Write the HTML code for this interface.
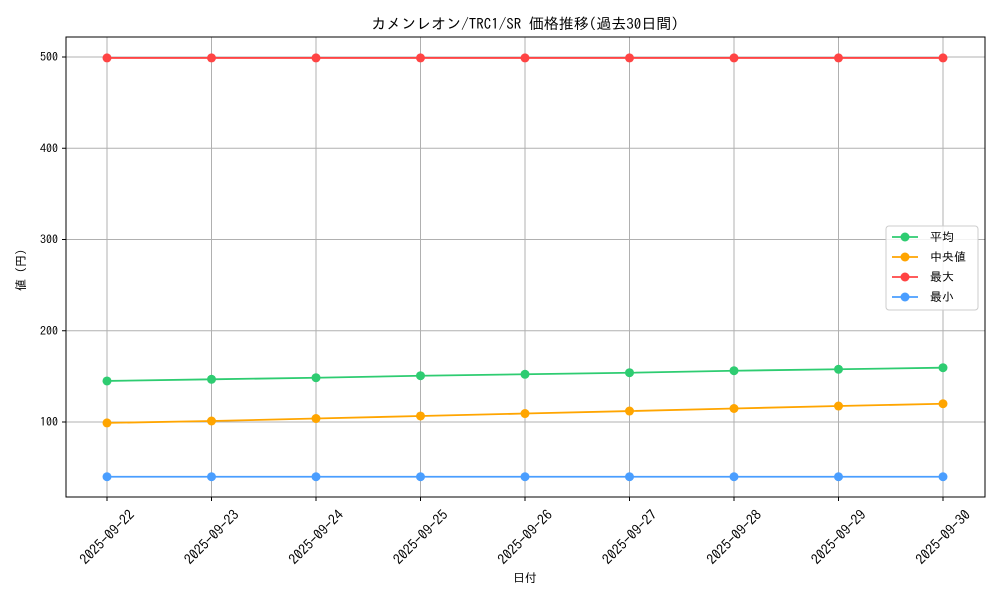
<!DOCTYPE html>
<html><head><meta charset="utf-8"><style>
body{margin:0;background:#fff;}
svg{font-family:"IPAGothic","Noto Sans CJK JP",sans-serif;}
</style></head><body>
<svg id="chart" width="1000" height="600" xmlns="http://www.w3.org/2000/svg">
<rect width="1000" height="600" fill="#fff"/>
<text x="525" y="29" font-size="15" text-anchor="middle">カメンレオン/TRC1/SR 価格推移(過去30日間)</text>
<g id="grid"></g>
<g id="axes"></g>
<g id="series"></g>
<rect x="66" y="37" width="919" height="460" fill="none" stroke="#000" stroke-width="1"/>
<text x="525" y="582" font-size="12" text-anchor="middle">日付</text>
<text transform="translate(25,270) rotate(-90)" font-size="12" text-anchor="middle">値 (円)</text>
<g id="legend"></g>
</svg>
<script>
const categories=["2025-09-22","2025-09-23","2025-09-24","2025-09-25","2025-09-26","2025-09-27","2025-09-28","2025-09-29","2025-09-30"];
const avgValues=[145,146.8,148.5,150.7,152.3,154,156.2,157.8,159.5];
const medianValues=[99,101.1,103.8,106.6,109.3,112,114.8,117.5,120];
const maxValues=[499,499,499,499,499,499,499,499,499];
const minValues=[40,40,40,40,40,40,40,40,40];
const yTicks=[100,200,300,400,500];
const seriesNames=["平均","中央値","最大","最小"];
const colors=["#2ecc71","#ffa500","#ff4444","#4a9eff"];
const NS="http://www.w3.org/2000/svg";
function xs(i){return 107+i*(943-107)/(categories.length-1);}
function ys(v){return 422-(v-100)*365/400;}
function mk(tag,attrs,parent){const e=document.createElementNS(NS,tag);for(const k in attrs)e.setAttribute(k,attrs[k]);parent.appendChild(e);return e;}
const grid=document.getElementById('grid'),axes=document.getElementById('axes'),ser=document.getElementById('series'),leg=document.getElementById('legend');
categories.forEach((c,i)=>{
 const x=xs(i);
 const g=mk('line',{x1:x,x2:x,y1:37,y2:497,stroke:'#b0b0b0','stroke-width':1},grid);
 
 
 const t=mk('line',{x1:x,x2:x,y1:497,y2:501,stroke:'#000'},axes);
 
 
 const l=mk('text',{x:0,y:0,'font-size':14,'text-anchor':'middle','dominant-baseline':'central',transform:`translate(${x},537) rotate(-45)`},axes);
 l.textContent=c;
 
 
});
yTicks.forEach(v=>{
 const y=ys(v);
 const g=mk('line',{x1:66,x2:985,y1:y,y2:y,stroke:'#b0b0b0','stroke-width':1},grid);
 
 
 const t=mk('line',{x1:62,x2:66,y1:y,y2:y,stroke:'#000'},axes);
 
 
 const l=mk('text',{x:58,y:y+4,'font-size':12,'text-anchor':'end'},axes);
 l.textContent=v;
 
 
});
[avgValues,medianValues,maxValues,minValues].forEach((vals,s)=>{
 const pts=vals.map((v,i)=>xs(i)+','+ys(v)).join(' ');
 const pl=mk('polyline',{points:pts,fill:'none',stroke:colors[s],'stroke-width':1.8},ser);
 
 
 vals.forEach((v,i)=>{
  const c=mk('circle',{cx:xs(i),cy:ys(v),r:4.5,fill:colors[s]},ser);
  
  
 });
});
const box=mk('rect',{x:886,y:226,width:92,height:84,rx:3,fill:'#fff',stroke:'#ccc','fill-opacity':0.85},leg);


seriesNames.forEach((n,s)=>{
 const y=237+s*20;
 const ln=mk('line',{x1:892,x2:918,y1:y,y2:y,stroke:colors[s],'stroke-width':1.8},leg);
 
 
 const c=mk('circle',{cx:905,cy:y,r:4.5,fill:colors[s]},leg);
 
 
 const t=mk('text',{x:930,y:y+4,'font-size':12},leg);
 t.textContent=n;
 
 
});
</script>
</body></html>
